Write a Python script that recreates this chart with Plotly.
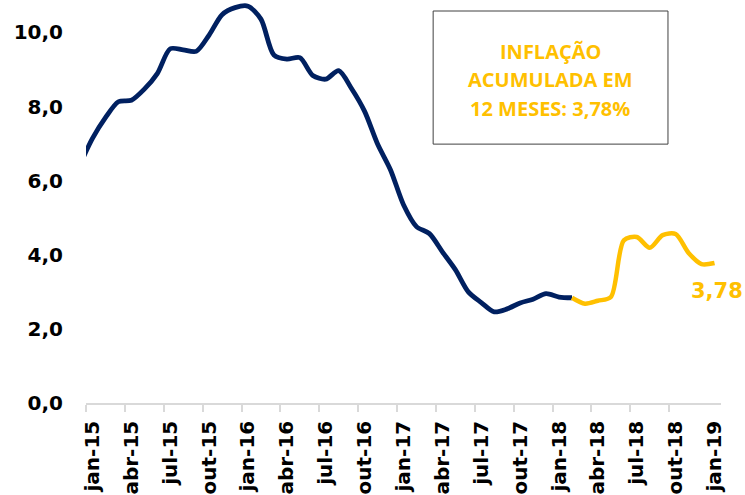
import plotly.graph_objects as go

# Month labels (index -1 = dez-14, 0 = jan-15 ... 48 = jan-19)
months = ["dez-14",
          "jan-15", "fev-15", "mar-15", "abr-15", "mai-15", "jun-15", "jul-15", "ago-15", "set-15", "out-15", "nov-15", "dez-15",
          "jan-16", "fev-16", "mar-16", "abr-16", "mai-16", "jun-16", "jul-16", "ago-16", "set-16", "out-16", "nov-16", "dez-16",
          "jan-17", "fev-17", "mar-17", "abr-17", "mai-17", "jun-17", "jul-17", "ago-17", "set-17", "out-17", "nov-17", "dez-17",
          "jan-18", "fev-18", "mar-18", "abr-18", "mai-18", "jun-18", "jul-18", "ago-18", "set-18", "out-18", "nov-18", "dez-18",
          "jan-19"]

# IPCA accumulated over 12 months (%), historical part (dez-14 .. fev-18)
hist_values = [6.41,
               7.14, 7.70, 8.13, 8.17, 8.47, 8.89, 9.56, 9.53, 9.49, 9.93, 10.48, 10.67,
               10.71, 10.36, 9.39, 9.28, 9.32, 8.84, 8.74, 8.97, 8.48, 7.87, 6.99, 6.29,
               5.35, 4.76, 4.57, 4.08, 3.60, 3.00, 2.71, 2.46, 2.54, 2.70, 2.80, 2.95,
               2.86, 2.84]
# recent part (fev-18 .. jan-19)
recent_values = [2.84, 2.68, 2.76, 2.86, 4.39, 4.48, 4.19, 4.53, 4.56, 4.05, 3.75, 3.78]

last_label = "3,78"
box_lines = ["INFLAÇÃO", "ACUMULADA EM", "12 MESES: 3,78%"]

BLUE = "#002060"
YELLOW = "#FFC000"

idx = list(range(-1, len(months) - 1))
hist_x = idx[:len(hist_values)]
recent_x = idx[len(hist_values) - 1:len(hist_values) - 1 + len(recent_values)]

fig = go.Figure()
fig.add_trace(go.Scatter(x=hist_x, y=hist_values, mode="lines",
                         line=dict(color=BLUE, width=4.8, shape="spline", smoothing=0.8),
                         hoverinfo="skip", showlegend=False))
fig.add_trace(go.Scatter(x=recent_x, y=recent_values, mode="lines",
                         line=dict(color=YELLOW, width=4.5, shape="spline", smoothing=0.8),
                         hoverinfo="skip", showlegend=False))

tick_idx = [i for i in idx if i >= 0 and i % 3 == 0]
tick_text = [months[i + 1] for i in tick_idx]
minor_vals = [i - 0.5 for i in tick_idx[:-1]]

fig.add_annotation(x=recent_x[-1], y=recent_values[-1], text=last_label, showarrow=False,
                   yshift=-28, xshift=2,
                   font=dict(family="DejaVu Sans", size=21, color=YELLOW, weight="bold"))

# text box
fig.add_shape(type="rect", xref="paper", yref="paper",
              x0=0.5467, x1=0.9165, y0=0.6424, y1=0.9727,
              line=dict(color="#404040", width=1), fillcolor="white", layer="above")
for t, yp in zip(box_lines, [0.873, 0.802, 0.732]):
    fig.add_annotation(xref="paper", yref="paper", x=0.731, y=yp, text=t, showarrow=False,
                       xanchor="center", yanchor="middle",
                       font=dict(family="Open Sans", size=20, color=YELLOW, weight="bold"))

fig.update_layout(
    width=745, height=495,
    margin=dict(l=86, r=24.3, t=0, b=91.5, autoexpand=False),
    paper_bgcolor="white", plot_bgcolor="white",
    separators=",.",
    xaxis=dict(range=[-0.5, 48.5], tickmode="array", tickvals=tick_idx, ticktext=tick_text,
               tickangle=-90, ticks="", showgrid=False, zeroline=False,
               showline=True, linecolor="#d9d9d9", linewidth=1.5,
               ticklabelstandoff=8,
               tickfont=dict(family="DejaVu Sans", size=20, color="black", weight="bold"),
               minor=dict(tickmode="array", tickvals=minor_vals, ticks="outside",
                          ticklen=7, tickwidth=1.5, tickcolor="#d9d9d9", showgrid=False)),
    yaxis=dict(range=[0, 10.876], tickmode="array", tickvals=[0, 2, 4, 6, 8, 10],
               tickformat=".1f", ticks="", showgrid=False, zeroline=False, showline=False,
               ticklabelstandoff=22,
               tickfont=dict(family="DejaVu Sans", size=20, color="black", weight="bold")),
)

fig.write_html("out.html", config={"displayModeBar": False},
               post_script="document.body.style.margin='0';")
